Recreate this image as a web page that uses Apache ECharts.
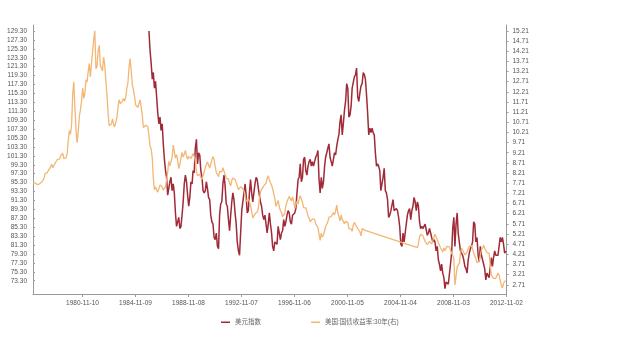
<!DOCTYPE html>
<html><head><meta charset="utf-8">
<script src="https://cdn.jsdelivr.net/npm/echarts@6/dist/echarts.min.js"></script>
<style>html,body{margin:0;padding:0;background:#fff}#c{width:619px;height:344px}</style>
</head><body><div id="c"></div>
<script>
const seriesNames = ['美元指数', '美国:国债收益率:30年(右)'];
const xTickDates = ['1980-11-10','1984-11-09','1988-11-08','1992-11-07','1996-11-06','2000-11-05','2004-11-04','2008-11-03','2012-11-02'];
const leftTicks = [73.30,75.30,77.30,79.30,81.30,83.30,85.30,87.30,89.30,91.30,93.30,95.30,97.30,99.30,101.30,103.30,105.30,107.30,109.30,111.30,113.30,115.30,117.30,119.30,121.30,123.30,125.30,127.30,129.30];
const rightTicks = [2.71,3.21,3.71,4.21,4.71,5.21,5.71,6.21,6.71,7.21,7.71,8.21,8.71,9.21,9.71,10.21,10.71,11.21,11.71,12.21,12.71,13.21,13.71,14.21,14.71,15.21];

// 美元指数, monthly from 1985-11
const usdStart = '1985-11';
const usdValues = [
129.3,125.0,
122.0,118.5,120.0,116.5,118.0,114.5,111.0,108.5,110.0,107.0,108.5,104.0,
100.5,98.0,96.5,92.5,94.0,95.5,96.5,93.5,95.0,93.0,88.5,85.5,
86.5,87.5,85.0,85.5,88.0,91.0,95.0,97.0,95.5,92.5,90.0,92.0,
95.5,95.0,98.0,97.5,103.0,105.0,99.5,102.0,101.5,98.0,96.5,93.5,
93.0,93.5,95.5,94.0,92.0,91.5,88.0,86.5,86.0,83.0,82.5,84.0,
81.0,80.5,88.0,90.5,91.0,95.0,97.0,94.5,90.5,90.0,87.0,84.5,
88.0,91.0,93.0,91.5,88.5,86.0,82.0,80.0,79.0,84.0,89.0,91.0,
93.0,95.0,92.5,88.5,89.0,93.0,96.0,93.0,91.0,93.0,95.0,96.5,
96.0,94.0,92.5,91.0,90.0,88.0,87.0,88.0,86.0,84.0,86.0,88.5,
86.0,84.0,81.0,80.0,82.0,82.0,81.5,85.5,84.0,82.5,84.0,84.5,
87.0,85.5,86.5,88.0,89.0,88.5,86.5,86.0,88.0,88.0,88.5,89.5,
93.0,96.0,96.5,99.5,95.5,96.5,100.5,101.0,98.0,97.0,99.0,100.0,
100.5,99.0,100.0,99.0,100.0,101.0,101.5,102.5,96.0,93.0,96.5,94.0,
95.5,99.0,101.0,102.0,103.0,104.0,101.0,100.0,99.0,99.0,102.0,101.5,
103.5,105.0,106.0,109.0,110.5,106.0,108.5,111.5,113.5,117.5,116.5,110.0,
110.5,112.5,116.5,116.5,119.0,119.5,121.0,114.5,113.5,115.5,117.0,117.5,
120.0,119.5,118.5,115.0,111.0,106.0,107.5,106.5,107.5,106.5,106.0,102.0,
99.0,99.5,99.0,98.0,93.5,95.0,96.5,98.5,93.5,93.0,91.5,87.5,
88.0,89.0,89.0,91.5,89.0,89.0,89.5,89.0,87.5,85.5,81.5,81.0,
84.0,82.0,84.0,84.0,88.0,89.0,89.5,87.0,89.0,90.0,92.0,91.0,
89.0,91.0,90.0,86.5,85.0,85.5,85.0,85.0,86.0,86.0,83.5,84.0,
85.0,84.0,83.0,82.0,82.5,82.0,80.0,81.0,78.0,77.0,75.5,77.0,
75.0,74.0,71.5,73.0,73.0,72.5,72.5,77.0,79.5,85.0,87.5,81.0,
86.0,88.5,84.0,84.0,80.0,80.0,79.0,78.0,76.5,76.0,75.0,78.0,
79.5,80.5,81.0,82.0,86.5,86.0,82.0,83.0,79.0,77.5,81.0,79.0,
78.0,77.0,76.0,73.5,75.0,74.5,74.0,74.0,78.5,76.5,78.5,80.0,
79.0,79.0,79.0,79.0,83.0,82.0,83.0,81.5,79.5,80.0
];

// 美国:国债收益率:30年, monthly 1977-02 .. 2002-02
const tsyStartA = '1977-02';
const tsyValuesA = [
7.75,7.80,7.73,7.80,7.64,7.64,7.68,7.64,7.77,7.85,7.94,
8.18,8.25,8.23,8.34,8.43,8.50,8.65,8.47,8.47,8.69,8.75,8.88,
8.94,8.90,9.03,9.08,9.19,8.92,8.92,8.97,9.17,9.85,10.30,10.12,
10.60,12.13,12.70,11.40,10.36,9.70,10.24,11.00,11.34,11.75,12.40,11.89,
12.14,12.80,12.69,13.20,13.60,12.96,13.59,14.17,14.80,15.21,13.35,13.45,
14.22,14.50,13.53,13.37,13.24,13.92,13.55,12.77,12.07,11.17,10.54,10.54,
10.63,10.88,10.63,10.48,10.53,10.93,11.40,11.82,11.63,11.58,11.75,11.88,
11.75,11.95,12.38,12.65,13.43,13.85,13.21,12.54,12.29,11.98,11.56,11.52,
11.45,11.47,11.81,11.47,11.05,10.45,10.50,10.56,10.61,10.50,10.06,9.54,
9.40,8.93,7.96,7.39,7.52,7.57,7.27,7.33,7.62,7.70,7.52,7.37,
7.39,7.54,7.55,8.25,8.78,8.57,8.64,8.97,9.59,9.61,8.95,9.12,
8.83,8.43,8.63,8.95,9.23,9.00,9.14,9.32,9.06,8.89,9.02,9.01,
8.93,9.01,9.17,9.03,8.83,8.27,8.08,8.12,8.15,8.00,7.90,7.90,
8.26,8.50,8.56,8.76,8.73,8.46,8.50,8.86,9.03,8.86,8.54,8.24,
8.27,8.03,8.29,8.21,8.27,8.47,8.45,8.14,7.95,7.93,7.92,7.70,
7.58,7.85,7.97,7.96,7.89,7.84,7.60,7.39,7.34,7.53,7.61,7.44,
7.34,7.09,6.82,6.85,6.92,6.81,6.63,6.32,6.00,5.94,6.21,6.25,
6.29,6.49,6.91,7.27,7.41,7.40,7.58,7.49,7.71,7.94,8.08,7.87,
7.85,7.61,7.45,7.36,6.95,6.57,6.72,6.86,6.55,6.37,6.26,6.06,
6.05,6.24,6.60,6.79,6.93,7.06,7.03,6.84,7.03,6.81,6.48,6.55,
6.83,6.69,6.93,7.09,6.94,6.77,6.51,6.58,6.50,6.33,6.11,5.99,
5.81,5.89,5.95,5.92,5.93,5.70,5.68,5.54,5.20,4.90,5.25,5.06,
5.16,5.37,5.58,5.55,5.81,6.04,5.98,6.07,6.07,6.26,6.15,6.35,
6.63,6.23,6.05,5.85,6.15,5.93,5.85,5.72,5.83,5.80,5.78,5.49,
5.54,5.45,5.34,5.65,5.78,5.67,5.61,5.48,5.48,5.32,5.12,5.48,
5.45,5.40
];
// monthly 2006-02 .. 2012-10
const tsyStartB = '2006-02';
const tsyValuesB = [
4.54,4.73,5.06,5.20,5.15,5.13,4.97,4.85,4.85,4.69,4.68,
4.85,4.82,4.72,4.87,4.90,5.20,5.11,4.93,4.79,4.77,4.52,4.53,
4.33,4.52,4.39,4.44,4.60,4.69,4.57,4.50,4.27,4.17,4.00,2.70,
3.13,3.59,3.64,3.76,4.23,4.52,4.41,4.37,4.19,4.19,4.31,4.49,
4.60,4.62,4.64,4.69,4.29,4.13,3.99,3.80,3.77,3.87,4.19,4.42,
4.52,4.65,4.51,4.50,4.29,4.23,4.27,3.65,3.18,3.13,3.02,2.98,
3.03,3.11,3.28,3.18,2.93,2.70,2.55,2.77,2.88,2.90
];

function parseDay(s){const p=s.split('-').map(Number);return Date.UTC(p[0],p[1]-1,p[2]);}
function monthly(start, vals){
  const p=start.split('-').map(Number);
  return vals.map((v,i)=>[Date.UTC(p[0],p[1]-1+i,15),v]);
}
function fmtDate(v){
  const d=new Date(v);const pad=n=>(n<10?'0':'')+n;
  return d.getUTCFullYear()+'-'+pad(d.getUTCMonth()+1)+'-'+pad(d.getUTCDate());
}
const xTickValues = xTickDates.map(parseDay);
const usdData = monthly(usdStart, usdValues);
const tsyData = monthly(tsyStartA, tsyValuesA).concat(monthly(tsyStartB, tsyValuesB));

const FONT = "'Liberation Sans','Noto Sans CJK SC',sans-serif";
const chart = echarts.init(document.getElementById('c'), null, {renderer:'canvas'});
chart.setOption({
  animation:false,
  backgroundColor:'#ffffff',
  textStyle:{fontFamily:FONT},
  grid:{left:33,right:112.5,top:25,bottom:50,containLabel:false},
  legend:{
    data:seriesNames, left:216, top:314, icon:'rect', itemWidth:9, itemHeight:1.5, itemGap:50,
    textStyle:{fontSize:6.5,color:'#666',fontFamily:FONT}
  },
  xAxis:{
    type:'value', min:parseDay('1977-02-15'), max:parseDay('2012-11-05'),
    axisLine:{show:true,lineStyle:{color:'#999',width:1}},
    axisTick:{show:true,length:3,customValues:xTickValues,lineStyle:{color:'#999'}},
    axisLabel:{customValues:xTickValues,formatter:fmtDate,fontSize:6.5,color:'#555',margin:6,fontFamily:FONT},
    splitLine:{show:false}
  },
  yAxis:[{
    type:'value', position:'left', min:70.32, max:130.65,
    axisLine:{show:true,lineStyle:{color:'#999',width:1}},
    axisTick:{show:true,inside:true,length:2,customValues:leftTicks,lineStyle:{color:'#999'}},
    axisLabel:{customValues:leftTicks,formatter:v=>v.toFixed(2),fontSize:6.5,color:'#555',margin:6,fontFamily:FONT},
    splitLine:{show:false}
  },{
    type:'value', position:'right', min:2.255, max:15.5,
    axisLine:{show:true,lineStyle:{color:'#999',width:1}},
    axisTick:{show:true,length:2,customValues:rightTicks,lineStyle:{color:'#999'}},
    axisLabel:{customValues:rightTicks,formatter:v=>v.toFixed(2),fontSize:6.5,color:'#555',margin:6,fontFamily:FONT},
    splitLine:{show:false}
  }],
  series:[{
    name:seriesNames[0], type:'line', yAxisIndex:0, data:usdData, showSymbol:false, symbol:'none',
    lineStyle:{color:'#a02a38',width:1.5}, itemStyle:{color:'#a02a38'}
  },{
    name:seriesNames[1], type:'line', yAxisIndex:1, data:tsyData, showSymbol:false, symbol:'none',
    lineStyle:{color:'#f3b674',width:1.3}, itemStyle:{color:'#f3b674'}
  }]
});
</script></body></html>
